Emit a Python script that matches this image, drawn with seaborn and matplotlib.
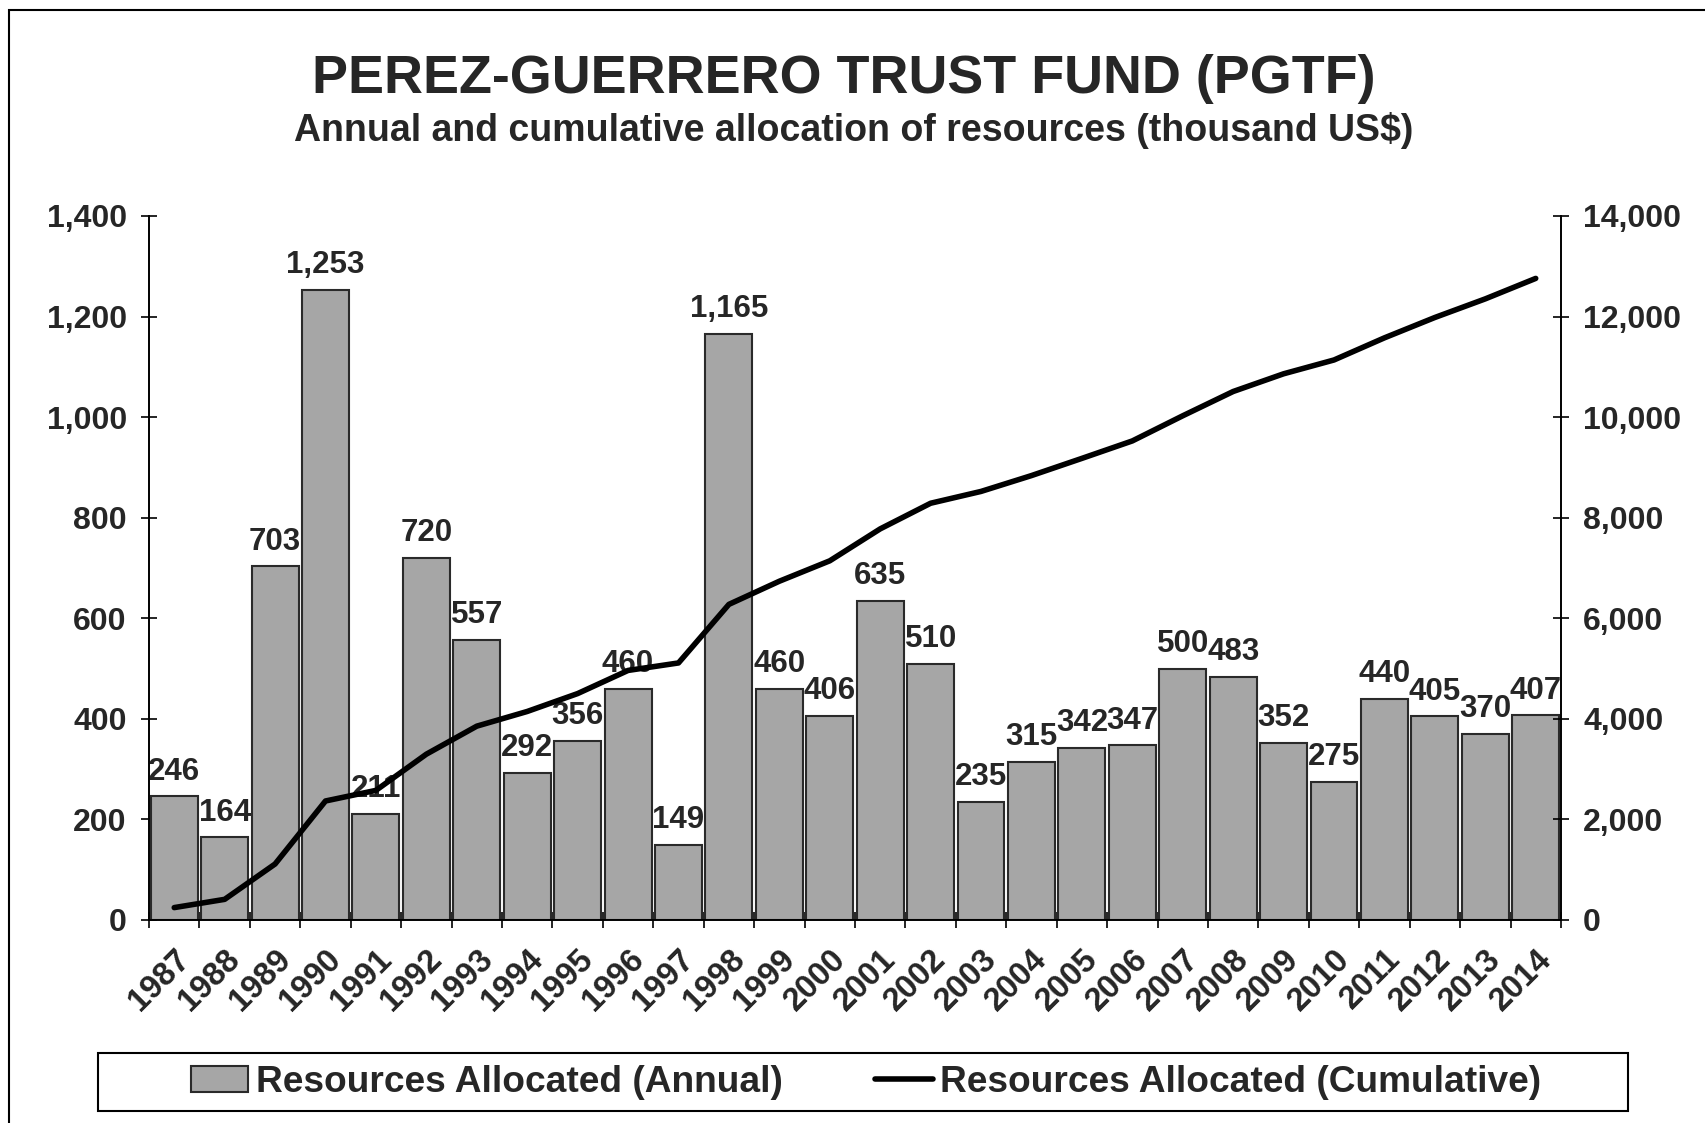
import matplotlib
matplotlib.use("Agg")
import matplotlib.pyplot as plt
import seaborn as sns
import numpy as np
import pandas as pd
from matplotlib.patches import Patch, Rectangle
from matplotlib.lines import Line2D
from matplotlib.ticker import StrMethodFormatter

years = [1987, 1988, 1989, 1990, 1991, 1992, 1993, 1994, 1995, 1996, 1997, 1998, 1999, 2000,
         2001, 2002, 2003, 2004, 2005, 2006, 2007, 2008, 2009, 2010, 2011, 2012, 2013, 2014]
annual = [246, 164, 703, 1253, 211, 720, 557, 292, 356, 460, 149, 1165, 460, 406,
          635, 510, 235, 315, 342, 347, 500, 483, 352, 275, 440, 405, 370, 407]
cumulative = [246, 410, 1113, 2366, 2577, 3297, 3854, 4146, 4502, 4962, 5111, 6276, 6736, 7142,
              7777, 8287, 8522, 8837, 9179, 9526, 10026, 10509, 10861, 11136, 11576, 11981, 12351, 12758]

left_ticks = [0, 200, 400, 600, 800, 1000, 1200, 1400]
right_ticks = [0, 2000, 4000, 6000, 8000, 10000, 12000, 14000]

title = "PEREZ-GUERRERO TRUST FUND (PGTF)"
subtitle = "Annual and cumulative allocation of resources (thousand US$)"
label_annual = "Resources Allocated (Annual)"
label_cum = "Resources Allocated (Cumulative)"

bar_color = "#A6A6A6"

sns.set_style("ticks")
plt.rcParams["font.family"] = ["Liberation Sans", "DejaVu Sans"]
plt.rcParams["font.weight"] = "bold"

df = pd.DataFrame({"year": years, "annual": annual})

fig = plt.figure(figsize=(17.05, 11.23), dpi=100)
ax = fig.add_axes([0.0874, 0.1808, 0.8281, 0.6269])

sns.barplot(data=df, x="year", y="annual", color=bar_color, saturation=1, width=0.93,
            edgecolor="#2a2a2a", linewidth=1.5, errorbar=None, ax=ax)
ax.bar_label(ax.containers[0], labels=[f"{v:,}" for v in annual], padding=7,
             fontsize=22.5, fontweight="bold")

ax2 = ax.twinx()
sns.lineplot(x=np.arange(len(years)), y=cumulative, color="black", linewidth=4,
             legend=False, ax=ax2)

n = len(years)
ax.set_xlim(-0.5, n - 0.5)
ax.set_ylim(0, 1400)
ax2.set_ylim(0, 14000)

ax.set_xticks(np.arange(n))
ax.set_xticklabels([str(y) for y in years], rotation=45, ha="right", va="top",
                   rotation_mode="anchor", fontsize=23.5, fontweight="bold")
ax.set_xticks(np.arange(n + 1) - 0.5, minor=True)
ax.tick_params(axis="x", which="major", length=0, pad=17)
ax.tick_params(axis="x", which="minor", length=12, width=1.2, direction="inout", color="black")

ax.set_yticks(left_ticks)
ax2.set_yticks(right_ticks)
ax.yaxis.set_major_formatter(StrMethodFormatter("{x:,.0f}"))
ax2.yaxis.set_major_formatter(StrMethodFormatter("{x:,.0f}"))
ax.tick_params(axis="y", length=12, width=1.2, direction="inout", pad=10, labelsize=23, color="black")
ax2.tick_params(axis="y", length=12, width=1.2, direction="inout", pad=10, labelsize=23, color="black")

ax.set_xlabel("")
ax.set_ylabel("")
ax2.set_ylabel("")
for a in (ax, ax2):
    a.spines["top"].set_visible(False)
    for s in ("left", "right", "bottom"):
        a.spines[s].set_linewidth(1.2)
        a.spines[s].set_color("black")

fig.text(0.495, 0.930, title, ha="center", va="center", fontsize=38.8, fontweight="bold")
fig.text(0.5006, 0.884, subtitle, ha="center", va="center", fontsize=27, fontweight="bold")

handles = [Patch(facecolor=bar_color, edgecolor="#2a2a2a", linewidth=1.5),
           Line2D([], [], color="black", linewidth=4)]
fig.legend(handles, [label_annual, label_cum], loc="center", bbox_to_anchor=(0.508, 0.0365),
           ncol=2, frameon=False, prop={"size": 26.7, "weight": "bold"},
           handlelength=1.55, handletextpad=0.2, columnspacing=2.5)

fig.patches.append(Rectangle((98 / 1705, 1 - 1111 / 1123), 1530 / 1705, 58 / 1123,
                             transform=fig.transFigure, fill=False, edgecolor="black", linewidth=1.5))
fig.patches.append(Rectangle((0.0053, -0.1), 1.2, 1.091, transform=fig.transFigure,
                             fill=False, edgecolor="black", linewidth=1.5))

fig.savefig("out.png", dpi=100)
